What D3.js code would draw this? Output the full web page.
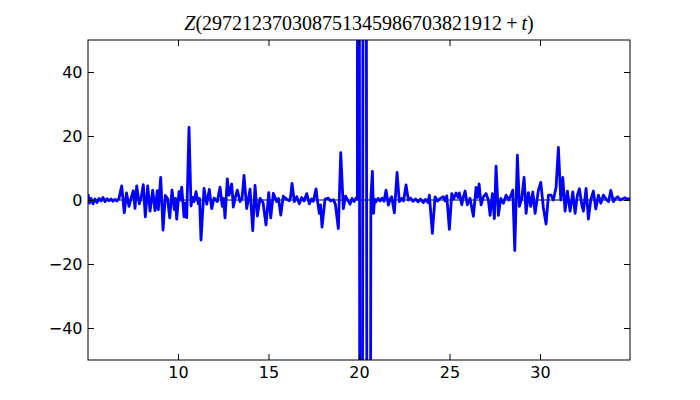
<!DOCTYPE html>
<html>
<head>
<meta charset="utf-8">
<script src="https://cdn.jsdelivr.net/npm/d3@7"></script>
<style>
  html, body { margin: 0; padding: 0; background: #ffffff; }
  svg { display: block; }
</style>
</head>
<body>
<div id="chart"></div>
<script>
// ---- data ----
const titleNumber = "297212370308751345986703821912";
const xTicks = [10, 15, 20, 25, 30];
const yTicks = [-40, -20, 0, 20, 40];
const xDomain = [5.03, 34.97];
const yDomain = [-50, 50];

const tValues = [
  5.030, 5.113, 5.196, 5.306, 5.417, 5.527, 5.638, 5.748, 5.859, 5.969,
  6.080, 6.190, 6.301, 6.411, 6.522, 6.632, 6.743, 6.892, 7.036, 7.157,
  7.295, 7.406, 7.533, 7.627, 7.721, 7.864, 7.975, 8.085, 8.196, 8.328,
  8.456, 8.605, 8.732, 8.859, 8.914, 9.047, 9.174, 9.301, 9.422, 9.544,
  9.671, 9.798, 9.864, 9.931, 10.058, 10.130, 10.207, 10.334, 10.406, 10.483,
  10.610, 10.721, 10.804, 10.887, 10.997, 11.124, 11.190, 11.273, 11.439, 11.588,
  11.732, 11.864, 11.991, 12.174, 12.323, 12.450, 12.516, 12.599, 12.726, 12.820,
  12.969, 13.058, 13.152, 13.279, 13.428, 13.539, 13.649, 13.798, 13.981, 14.130,
  14.257, 14.384, 14.533, 14.699, 14.865, 15.014, 15.124, 15.268, 15.456, 15.555,
  15.677, 15.820, 16.008, 16.152, 16.218, 16.301, 16.428, 16.561, 16.704, 16.837,
  16.964, 17.113, 17.257, 17.378, 17.478, 17.627, 17.699, 17.809, 17.875, 17.958,
  18.124, 18.306, 18.428, 18.583, 18.693, 18.859, 18.992, 19.135, 19.257, 19.395,
  19.505, 19.616, 19.727, 19.837, 19.909, 19.959, 20.102, 20.312, 20.528, 20.655,
  20.738, 20.804, 20.859, 20.942, 21.053, 21.163, 21.274, 21.384, 21.495,
  21.622, 21.743, 21.809, 21.953, 22.102, 22.229, 22.362, 22.461, 22.599, 22.727,
  22.848, 22.986, 23.124, 23.263, 23.401, 23.555, 23.677, 23.815, 23.887, 24.052,
  24.202, 24.340, 24.478, 24.660, 24.754, 24.848, 24.992, 25.124, 25.224, 25.362,
  25.472, 25.544, 25.677, 25.749, 25.859, 25.986, 26.135, 26.318, 26.467, 26.550,
  26.633, 26.743, 26.870, 27.019, 27.147, 27.241, 27.368, 27.478, 27.572, 27.699,
  27.832, 27.975, 28.124, 28.274, 28.401, 28.495, 28.605, 28.749, 28.859, 28.992,
  29.119, 29.230, 29.357, 29.489, 29.600, 29.727, 29.909, 30.042, 30.186, 30.335,
  30.462, 30.611, 30.738, 30.887, 31.014, 31.147, 31.257, 31.384, 31.511, 31.660,
  31.810, 31.937, 32.064, 32.175, 32.307, 32.396, 32.545, 32.672, 32.804, 32.948,
  33.080, 33.224, 33.356, 33.500, 33.688, 33.788, 33.909, 34.053, 34.174, 34.296,
  34.423, 34.534, 34.699, 34.810, 34.970
];

const zValues = [
  1.8, -1.0, 0.5, -1.2, 0.3, -0.8, 0.5, -0.3, 0.8, -0.5,
  0.4, -0.2, 0.3, -0.4, 0.2, -0.3, 0.5, 4.4, -4.0, 2.2,
  -2.0, 0.5, 2.9, -2.6, 4.4, -1.2, 1.0, 4.8, -5.3, 4.4,
  -3.5, 3.1, -3.3, 2.9, -3.0, 7.1, -9.4, 1.4, 0.5, -5.6,
  3.1, -3.0, 0.5, -6.0, 2.6, 0.0, 4.0, -5.3, -1.0, -5.5,
  22.7, -1.9, 0.8, -0.5, 2.6, -1.2, 0.5, -12.5, 3.6, -1.3,
  3.3, -2.7, 0.6, -0.5, 4.0, -2.0, 0.5, -5.6, 6.6, 1.5,
  5.0, -2.2, 0.5, 3.1, -0.5, 0.5, 7.7, -2.7, 3.4, -9.6,
  4.6, -5.0, 0.5, -0.8, -7.8, 2.3, -5.6, 2.1, -0.5, 0.5,
  -4.7, 1.2, 0.2, -0.2, 0.8, 5.2, -0.5, 1.0, -1.2, 0.8,
  -0.3, 2.0, -1.2, 0.3, -0.4, 3.5, 0.0, -4.2, -1.5, -8.5,
  0.3, 0.6, -0.3, 0.1, -1.3, -8.9, 14.8, -2.7, 1.2, -0.2,
  -1.3, 0.5, -0.5, 0.6, 0.3, 500, -500, 500, -500, 0.5,
  8.9, -4.2, 0.3, -0.6, 0.5, -0.3, 0.6, -0.4, 3.1,
  -1.6, 0.5, 1.0, -4.0, 8.6, -0.5, 0.5, -0.3, 4.7, 0.0,
  0.6, -0.4, 0.3, -0.6, 0.3, -0.8, 0.2, -0.8, 1.5, -10.4,
  1.0, -0.3, 0.5, 1.0, -0.3, 1.3, -9.2, 2.0, 0.3, 2.2,
  0.8, 2.2, -1.5, 0.5, 2.8, -1.5, 0.5, -5.1, 3.9, 0.8,
  5.0, -1.5, 1.0, 2.0, 0.0, -4.8, 2.0, -5.8, 10.6, -4.8,
  0.5, -1.0, 1.5, 0.0, 1.5, 3.1, -15.8, 14.0, -2.0, 0.5,
  7.1, -4.2, 2.3, -2.0, 2.5, -4.2, 3.1, 5.5, -2.5, -7.5,
  1.5, 1.5, 0.0, 4.0, 16.4, 0.0, 7.1, -3.5, 2.8, -3.5,
  2.5, -4.2, 1.5, 3.5, -1.5, -3.5, 3.6, -6.0, 0.0, 2.8,
  -2.8, 1.5, -1.0, 1.5, 0.0, -0.5, 3.0, -0.5, 0.5, 1.0,
  0.0, 0.3, 0.7, 0.2, 0.5
];

// ---- layout ----
const W = 700, H = 400;
const margin = { left: 88, right: 70, top: 40, bottom: 40 };
const pw = W - margin.left - margin.right;   // 542
const ph = H - margin.top - margin.bottom;   // 320

const svg = d3.select("#chart").append("svg")
  .attr("width", W).attr("height", H)
  .style("font-family", "'DejaVu Sans', sans-serif");

const x = d3.scaleLinear().domain(xDomain).range([0, pw]);
const y = d3.scaleLinear().domain(yDomain).range([ph, 0]);

const g = svg.append("g").attr("transform", `translate(${margin.left},${margin.top})`);

g.append("defs").append("clipPath").attr("id", "plotclip")
  .append("rect").attr("x", 0).attr("y", 0).attr("width", pw).attr("height", ph);

// zero line
g.append("line")
  .attr("x1", 0).attr("x2", pw)
  .attr("y1", y(0)).attr("y2", y(0))
  .attr("stroke", "#000").attr("stroke-width", 1);

// data line
const data = tValues.map((t, i) => [t, zValues[i]]);
const line = d3.line().x(d => x(d[0])).y(d => y(d[1]));
g.append("path")
  .datum(data)
  .attr("clip-path", "url(#plotclip)")
  .attr("d", line)
  .attr("fill", "none")
  .attr("stroke", "#0000ff")
  .attr("stroke-width", 2.8)
  .attr("stroke-linejoin", "round")
  .attr("stroke-linecap", "butt");

// axes (ticks inside, on all four sides)
const tickLen = 6;
const fmt = d => (d < 0 ? "\u2212" + Math.abs(d) : String(d));

const axB = g.append("g").attr("transform", `translate(0,${ph})`)
  .call(d3.axisBottom(x).tickValues(xTicks).tickSize(-tickLen).tickPadding(7).tickFormat(fmt));
const axT = g.append("g")
  .call(d3.axisTop(x).tickValues(xTicks).tickSize(-tickLen).tickFormat(""));
const axL = g.append("g")
  .call(d3.axisLeft(y).tickValues(yTicks).tickSize(-tickLen).tickPadding(5.5).tickFormat(fmt));
const axR = g.append("g").attr("transform", `translate(${pw},0)`)
  .call(d3.axisRight(y).tickValues(yTicks).tickSize(-tickLen).tickFormat(""));

[axB, axT, axL, axR].forEach(a => {
  a.select(".domain").remove();
  a.selectAll(".tick line").attr("stroke", "#000").attr("stroke-width", 1);
  a.selectAll("text")
    .attr("fill", "#000")
    .style("font-family", "'DejaVu Sans', sans-serif")
    .style("font-size", "16px");
});

// frame
g.append("rect")
  .attr("x", 0).attr("y", 0).attr("width", pw).attr("height", ph)
  .attr("fill", "none").attr("stroke", "#000").attr("stroke-width", 1);

// title
const title = svg.append("text")
  .attr("x", margin.left + pw / 2)
  .attr("y", 30)
  .attr("text-anchor", "middle")
  .style("font-family", "'Liberation Serif', 'DejaVu Serif', serif")
  .style("font-size", "20px")
  .attr("fill", "#000");
title.append("tspan").style("font-style", "italic").text("Z");
title.append("tspan").text("(" + titleNumber);
title.append("tspan").text("\u2009+\u2009");
title.append("tspan").style("font-style", "italic").text("t");
title.append("tspan").text(")");
</script>
</body>
</html>
